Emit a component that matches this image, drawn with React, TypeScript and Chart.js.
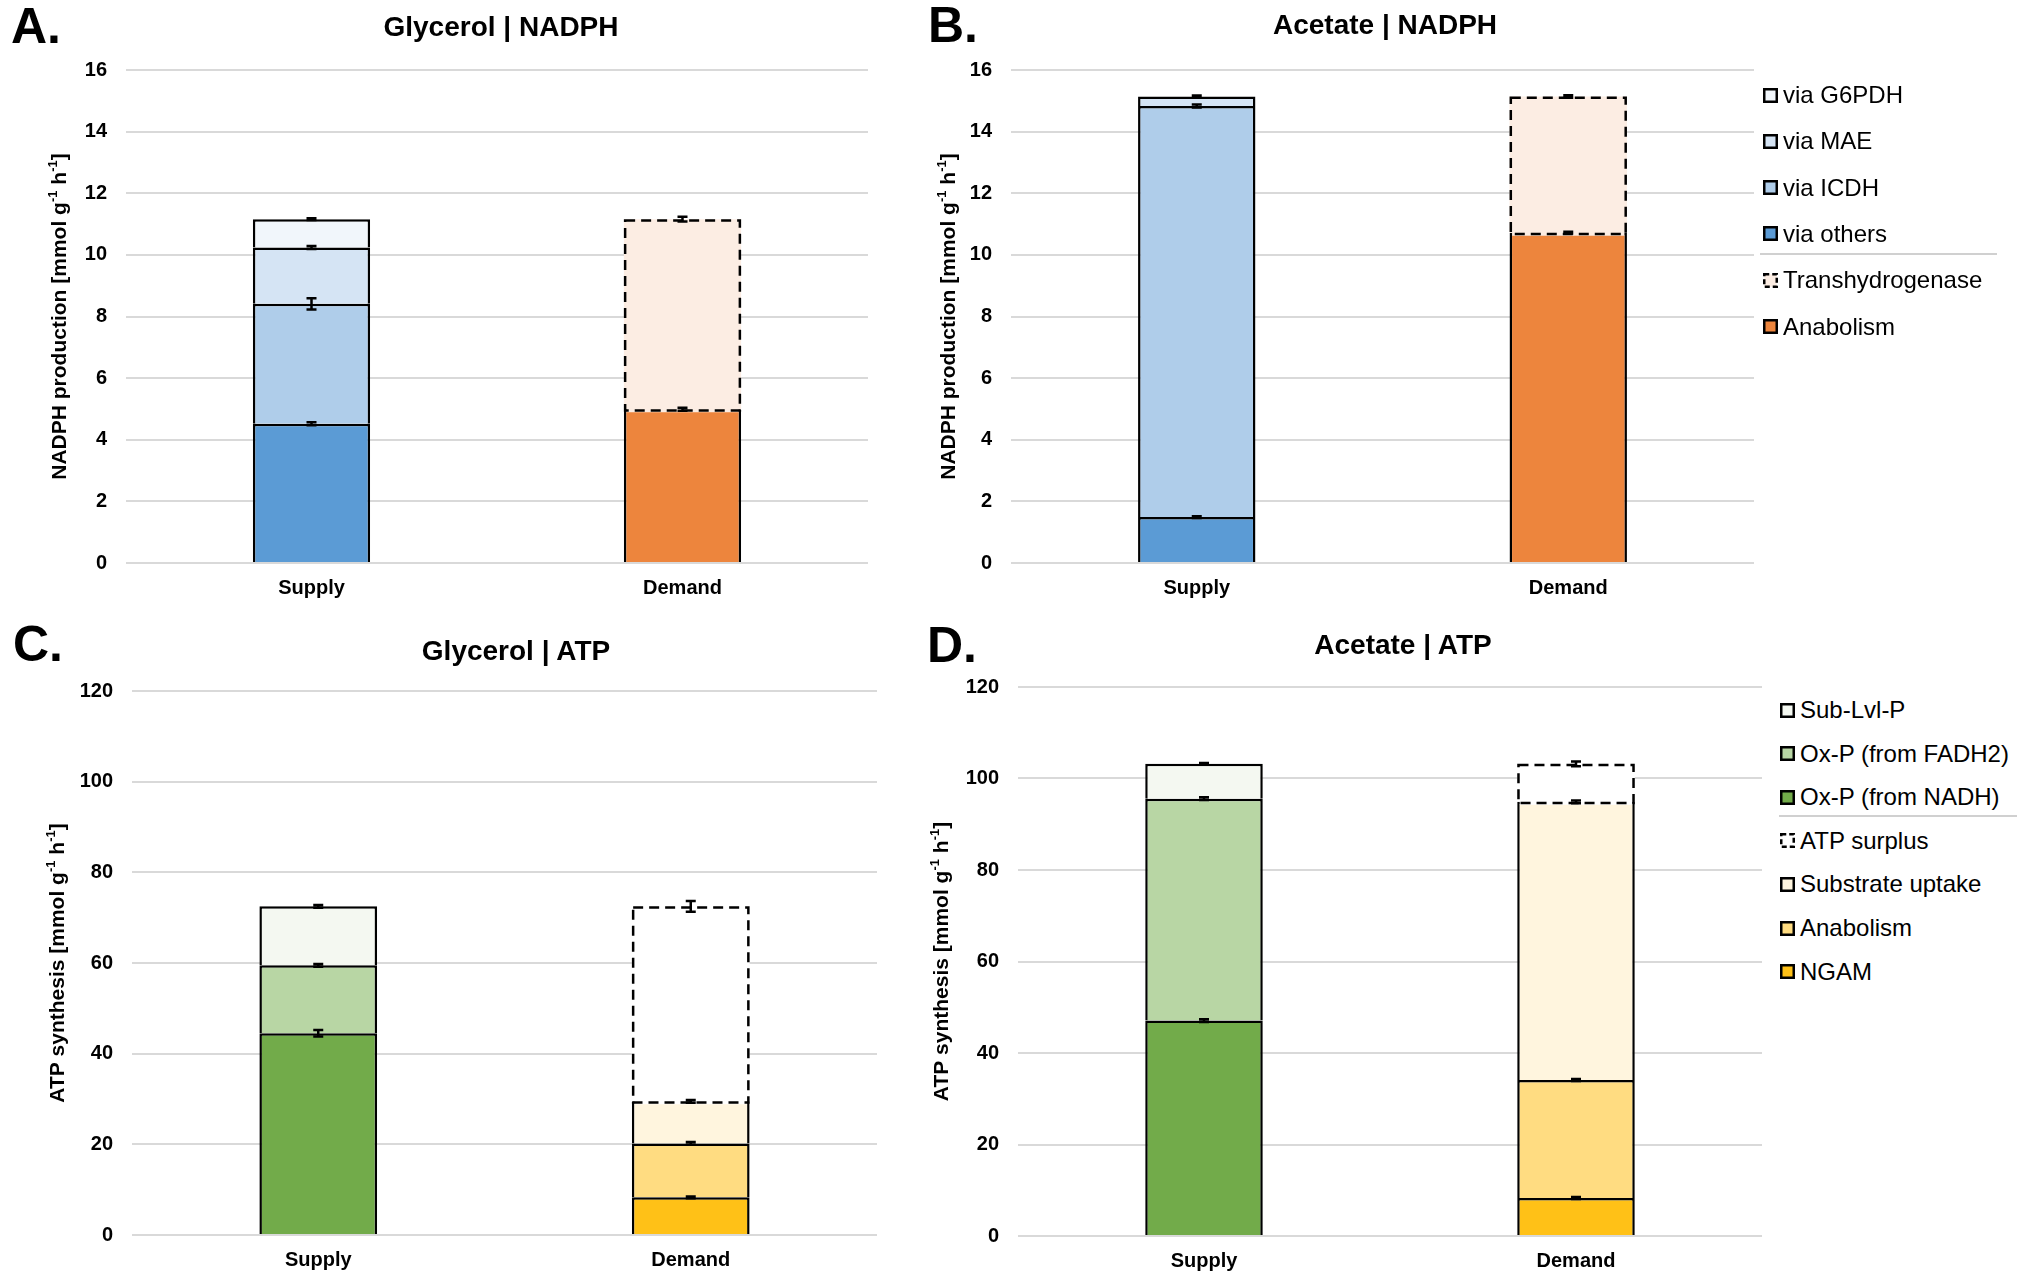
import React, { useEffect, useRef } from 'react';
import { Chart, registerables } from 'chart.js';

Chart.register(...registerables);

const FONT = '"Liberation Sans", Arial, Helvetica, sans-serif';

// ---------------- data ----------------
const CATEGORIES = ['Supply', 'Demand'];

const NADPH_SUPPLY_SERIES = ['via others', 'via ICDH', 'via MAE', 'via G6PDH'];
const NADPH_DEMAND_SERIES = ['Anabolism', 'Transhydrogenase'];
const ATP_SUPPLY_SERIES = ['Ox-P (from NADH)', 'Ox-P (from FADH2)', 'Sub-Lvl-P'];
const ATP_DEMAND_SERIES = ['NGAM', 'Anabolism', 'Substrate uptake', 'ATP surplus'];

const NADPH_Y_TICKS = [0, 2, 4, 6, 8, 10, 12, 14, 16];
const ATP_Y_TICKS = [0, 20, 40, 60, 80, 100, 120];

// Glycerol | NADPH
const GLY_NADPH_SUPPLY = [4.52, 3.89, 1.83, 0.92];
const GLY_NADPH_SUPPLY_ERR = [0.05, 0.18, 0.05, 0.03];
const GLY_NADPH_DEMAND = [4.99, 6.17];
const GLY_NADPH_DEMAND_ERR = [0.05, 0.08];

// Acetate | NADPH
const ACE_NADPH_SUPPLY = [1.49, 13.34, 0.31, 0];
const ACE_NADPH_SUPPLY_ERR = [0.03, 0.05, 0.03, 0];
const ACE_NADPH_DEMAND = [10.72, 4.42];
const ACE_NADPH_DEMAND_ERR = [0.03, 0.04];

// Glycerol | ATP
const GLY_ATP_SUPPLY = [44.5, 15.0, 13.0];
const GLY_ATP_SUPPLY_ERR = [0.7, 0.3, 0.3];
const GLY_ATP_DEMAND = [8.3, 11.9, 9.3, 43.0];
const GLY_ATP_DEMAND_ERR = [0.2, 0.3, 0.3, 1.2];

// Acetate | ATP
const ACE_ATP_SUPPLY = [47.1, 48.5, 7.6];
const ACE_ATP_SUPPLY_ERR = [0.3, 0.3, 0.2];
const ACE_ATP_DEMAND = [8.3, 25.8, 60.8, 8.3];
const ACE_ATP_DEMAND_ERR = [0.2, 0.2, 0.3, 0.5];

// ---------------- styles ----------------
const NADPH_SUPPLY_COLORS = ['#5b9bd5', '#afcdea', '#d5e4f4', '#f1f6fb'];
const NADPH_DEMAND_COLORS = ['#ed853d', '#fcede3'];
const ATP_SUPPLY_COLORS = ['#72ab4a', '#b8d6a4', '#f4f8f1'];
const ATP_DEMAND_COLORS = ['#ffc117', '#ffdc81', '#fff5de', '#ffffff'];

type Plot = { left: number; right: number; top: number; bottom: number };
type PanelDef = {
  supply: number[];
  supplyErr: number[];
  demand: number[];
  demandErr: number[];
  supplyNames: string[];
  demandNames: string[];
  supplyColors: string[];
  demandColors: string[];
  yTicks: number[];
  yTitle: string;
  plot: Plot;
  yTitleX: number;
};

const Y_AXIS_W = 126;
const PAD_TOP = 36;
const PAD_RIGHT = 12;
const X_AXIS_H = 48;

const PANELS: PanelDef[] = [
  {
    supply: GLY_NADPH_SUPPLY, supplyErr: GLY_NADPH_SUPPLY_ERR,
    demand: GLY_NADPH_DEMAND, demandErr: GLY_NADPH_DEMAND_ERR,
    supplyNames: NADPH_SUPPLY_SERIES, demandNames: NADPH_DEMAND_SERIES,
    supplyColors: NADPH_SUPPLY_COLORS, demandColors: NADPH_DEMAND_COLORS,
    yTicks: NADPH_Y_TICKS, yTitle: 'NADPH production [mmol g',
    plot: { left: 126, right: 868, top: 70, bottom: 563 }, yTitleX: 58,
  },
  {
    supply: ACE_NADPH_SUPPLY, supplyErr: ACE_NADPH_SUPPLY_ERR,
    demand: ACE_NADPH_DEMAND, demandErr: ACE_NADPH_DEMAND_ERR,
    supplyNames: NADPH_SUPPLY_SERIES, demandNames: NADPH_DEMAND_SERIES,
    supplyColors: NADPH_SUPPLY_COLORS, demandColors: NADPH_DEMAND_COLORS,
    yTicks: NADPH_Y_TICKS, yTitle: 'NADPH production [mmol g',
    plot: { left: 1011, right: 1754, top: 70, bottom: 563 }, yTitleX: 947,
  },
  {
    supply: GLY_ATP_SUPPLY, supplyErr: GLY_ATP_SUPPLY_ERR,
    demand: GLY_ATP_DEMAND, demandErr: GLY_ATP_DEMAND_ERR,
    supplyNames: ATP_SUPPLY_SERIES, demandNames: ATP_DEMAND_SERIES,
    supplyColors: ATP_SUPPLY_COLORS, demandColors: ATP_DEMAND_COLORS,
    yTicks: ATP_Y_TICKS, yTitle: 'ATP synthesis [mmol g',
    plot: { left: 132, right: 877, top: 691, bottom: 1235 }, yTitleX: 56,
  },
  {
    supply: ACE_ATP_SUPPLY, supplyErr: ACE_ATP_SUPPLY_ERR,
    demand: ACE_ATP_DEMAND, demandErr: ACE_ATP_DEMAND_ERR,
    supplyNames: ATP_SUPPLY_SERIES, demandNames: ATP_DEMAND_SERIES,
    supplyColors: ATP_SUPPLY_COLORS, demandColors: ATP_DEMAND_COLORS,
    yTicks: ATP_Y_TICKS, yTitle: 'ATP synthesis [mmol g',
    plot: { left: 1018, right: 1762, top: 687, bottom: 1236 }, yTitleX: 940,
  },
];

const overlayPlugin = {
  id: 'overlay',
  afterDatasetsDraw(chart: any) {
    const ctx = chart.ctx;
    const ys = chart.scales.y;
    // dashed segments
    chart.data.datasets.forEach((ds: any, di: number) => {
      if (!ds.dashed) return;
      const meta = chart.getDatasetMeta(di);
      meta.data.forEach((el: any, i: number) => {
        if (ds.data[i] == null) return;
        const { x, y, base, width } = el.getProps(['x', 'y', 'base', 'width'], true);
        const l = x - width / 2;
        ctx.save();
        ctx.fillStyle = ds.backgroundColor;
        ctx.fillRect(l + 2.5, base - 1, width - 5, 4);
        ctx.setLineDash([10, 6]);
        ctx.lineWidth = 2.5;
        ctx.strokeStyle = '#000';
        ctx.strokeRect(l + 1.25, y + 1.25, width - 2.5, base - y);
        ctx.restore();
      });
    });
    // error bars
    chart.data.datasets.forEach((ds: any, di: number) => {
      const meta = chart.getDatasetMeta(di);
      meta.data.forEach((el: any, i: number) => {
        const err = ds.errors ? ds.errors[i] : null;
        if (ds.data[i] == null || !err) return;
        const { x, y } = el.getProps(['x', 'y'], true);
        const e = Math.abs(ys.getPixelForValue(0) - ys.getPixelForValue(err));
        ctx.save();
        ctx.strokeStyle = '#000';
        ctx.lineWidth = 2.5;
        ctx.beginPath();
        ctx.moveTo(x, y - e);
        ctx.lineTo(x, y + e);
        ctx.moveTo(x - 5, y - e);
        ctx.lineTo(x + 5, y - e);
        ctx.moveTo(x - 5, y + e);
        ctx.lineTo(x + 5, y + e);
        ctx.stroke();
        ctx.restore();
      });
    });
  },
};

function makeYTitlePlugin(main: string, xPos: number) {
  return {
    id: 'ytitle',
    afterDraw(chart: any) {
      const ctx = chart.ctx;
      const ca = chart.chartArea;
      const size = 21;
      const supSize = 13;
      const parts = [
        { t: main, sup: false },
        { t: '-1', sup: true },
        { t: ' h', sup: false },
        { t: '-1', sup: true },
        { t: ']', sup: false },
      ];
      ctx.save();
      const widths = parts.map((p) => {
        ctx.font = `bold ${p.sup ? supSize : size}px ${FONT}`;
        return ctx.measureText(p.t).width;
      });
      const total = widths.reduce((a, b) => a + b, 0);
      ctx.translate(xPos, (ca.top + ca.bottom) / 2);
      ctx.rotate(-Math.PI / 2);
      ctx.fillStyle = '#000';
      ctx.textBaseline = 'alphabetic';
      ctx.textAlign = 'left';
      let cx = -total / 2;
      const baseY = size * 0.716 / 2;
      parts.forEach((p, i) => {
        ctx.font = `bold ${p.sup ? supSize : size}px ${FONT}`;
        ctx.fillText(p.t, cx, p.sup ? baseY - size * 0.42 : baseY);
        cx += widths[i];
      });
      ctx.restore();
    },
  };
}

function BarPanel({ p }: { p: PanelDef }) {
  const ref = useRef<HTMLCanvasElement | null>(null);
  const canvasLeft = p.plot.left - Y_AXIS_W;
  const canvasTop = p.plot.top - PAD_TOP;
  const width = p.plot.right - canvasLeft + PAD_RIGHT;
  const height = p.plot.bottom - canvasTop + X_AXIS_H;

  useEffect(() => {
    if (!ref.current) return;
    const nD = p.demand.length;
    const datasets: any[] = [
      ...p.supply.map((v, i) => ({
        label: p.supplyNames[i],
        data: [v > 0 ? v : null, null],
        errors: [p.supplyErr[i], null],
        backgroundColor: p.supplyColors[i],
        borderColor: '#000',
        borderWidth: 2.5,
        borderSkipped: 'start',
        stack: 'one',
        dashed: false,
      })),
      ...p.demand.map((v, i) => ({
        label: p.demandNames[i],
        data: [null, v > 0 ? v : null],
        errors: [null, p.demandErr[i]],
        backgroundColor: p.demandColors[i],
        borderColor: '#000',
        borderWidth: i === nD - 1 ? 0 : 2.5,
        borderSkipped: 'start',
        stack: 'one',
        dashed: i === nD - 1,
      })),
    ];
    const ticks = p.yTicks;
    const chart = new Chart(ref.current, {
      type: 'bar',
      data: { labels: CATEGORIES, datasets },
      options: {
        animation: false,
        responsive: false,
        maintainAspectRatio: false,
        devicePixelRatio: 1,
        layout: { padding: { left: 0, top: PAD_TOP, right: PAD_RIGHT, bottom: 0 } },
        datasets: { bar: { barPercentage: 0.316, categoryPercentage: 1 } },
        plugins: {
          legend: { display: false },
          tooltip: { enabled: false },
          title: { display: false },
        },
        scales: {
          x: {
            stacked: true,
            grid: { display: false, drawTicks: false },
            border: { display: false },
            ticks: { color: '#000', font: { family: FONT, size: 20, weight: 'bold' }, padding: 13 },
            afterFit: (s: any) => { s.height = X_AXIS_H; },
          },
          y: {
            stacked: true,
            min: ticks[0],
            max: ticks[ticks.length - 1],
            ticks: {
              stepSize: ticks[1] - ticks[0],
              color: '#000',
              font: { family: FONT, size: 20, weight: 'bold' },
              padding: 19,
            },
            grid: { color: '#d9d9d9', lineWidth: 2, drawTicks: false },
            border: { display: false },
            afterFit: (s: any) => { s.width = Y_AXIS_W; },
          },
        },
      } as any,
      plugins: [overlayPlugin, makeYTitlePlugin(p.yTitle, p.yTitleX - canvasLeft)],
    });
    return () => chart.destroy();
  }, []);

  return (
    <canvas
      ref={ref}
      width={width}
      height={height}
      style={{ position: 'absolute', left: canvasLeft, top: canvasTop, width, height }}
    />
  );
}

function Text({ x, y, size, bold, align, children }: any) {
  return (
    <div
      style={{
        position: 'absolute',
        left: x,
        top: y - 0.49 * size,
        fontFamily: FONT,
        fontSize: size,
        lineHeight: `${size}px`,
        fontWeight: bold ? 'bold' : 'normal',
        whiteSpace: 'nowrap',
        transform: align === 'center' ? 'translateX(-50%)' : undefined,
        color: '#000',
      }}
    >
      {children}
    </div>
  );
}

function Marker({ color, dashed }: { color: string; dashed: boolean }) {
  return (
    <svg width={15} height={15} style={{ display: 'block', flex: '0 0 auto' }}>
      <rect
        x={1.25}
        y={1.25}
        width={12.5}
        height={12.5}
        fill={color}
        stroke="#000"
        strokeWidth={2.5}
        strokeDasharray={dashed ? '5 3' : undefined}
      />
    </svg>
  );
}

function Legend({ x, y0, step, sepX1, sepX2, supplyNames, supplyColors, demandNames, demandColors }: any) {
  const sup = supplyNames.map((n: string, i: number) => ({ n, c: supplyColors[i], d: false })).reverse();
  const dem = demandNames
    .map((n: string, i: number) => ({ n, c: demandColors[i], d: i === demandNames.length - 1 }))
    .reverse();
  const items = [...sup, ...dem];
  const sepY = y0 + (sup.length - 1) * step + step * 0.43;
  return (
    <>
      {items.map((it: any, i: number) => (
        <div
          key={i}
          style={{
            position: 'absolute',
            left: x,
            top: y0 + i * step - 12,
            height: 24,
            display: 'flex',
            alignItems: 'center',
            fontFamily: FONT,
            fontSize: 24,
            lineHeight: '24px',
            whiteSpace: 'nowrap',
            color: '#000',
          }}
        >
          <Marker color={it.c} dashed={it.d} />
          <span style={{ marginLeft: 5 }}>{it.n}</span>
        </div>
      ))}
      <div
        style={{
          position: 'absolute',
          left: sepX1,
          top: sepY - 1,
          width: sepX2 - sepX1,
          height: 2,
          background: '#d0d0d0',
        }}
      />
    </>
  );
}

export default function App() {
  return (
    <div style={{ position: 'absolute', left: 0, top: 0, width: 2042, height: 1275, background: '#fff', overflow: 'hidden' }}>
      {PANELS.map((p, i) => (
        <BarPanel key={i} p={p} />
      ))}
      <Text x={11} y={25} size={50} bold>A.</Text>
      <Text x={928} y={24.5} size={50} bold>B.</Text>
      <Text x={13} y={643} size={50} bold>C.</Text>
      <Text x={927} y={644.5} size={50} bold>D.</Text>
      <Text x={501} y={26.5} size={28} bold align="center">Glycerol | NADPH</Text>
      <Text x={1385} y={25} size={28} bold align="center">Acetate | NADPH</Text>
      <Text x={516} y={651} size={28} bold align="center">Glycerol | ATP</Text>
      <Text x={1403} y={645} size={28} bold align="center">Acetate | ATP</Text>
      <Legend
        x={1763} y0={95} step={46.3} sepX1={1760} sepX2={1997}
        supplyNames={NADPH_SUPPLY_SERIES} supplyColors={NADPH_SUPPLY_COLORS}
        demandNames={NADPH_DEMAND_SERIES} demandColors={NADPH_DEMAND_COLORS}
      />
      <Legend
        x={1780} y0={710} step={43.6} sepX1={1779} sepX2={2017}
        supplyNames={ATP_SUPPLY_SERIES} supplyColors={ATP_SUPPLY_COLORS}
        demandNames={ATP_DEMAND_SERIES} demandColors={ATP_DEMAND_COLORS}
      />
    </div>
  );
}
